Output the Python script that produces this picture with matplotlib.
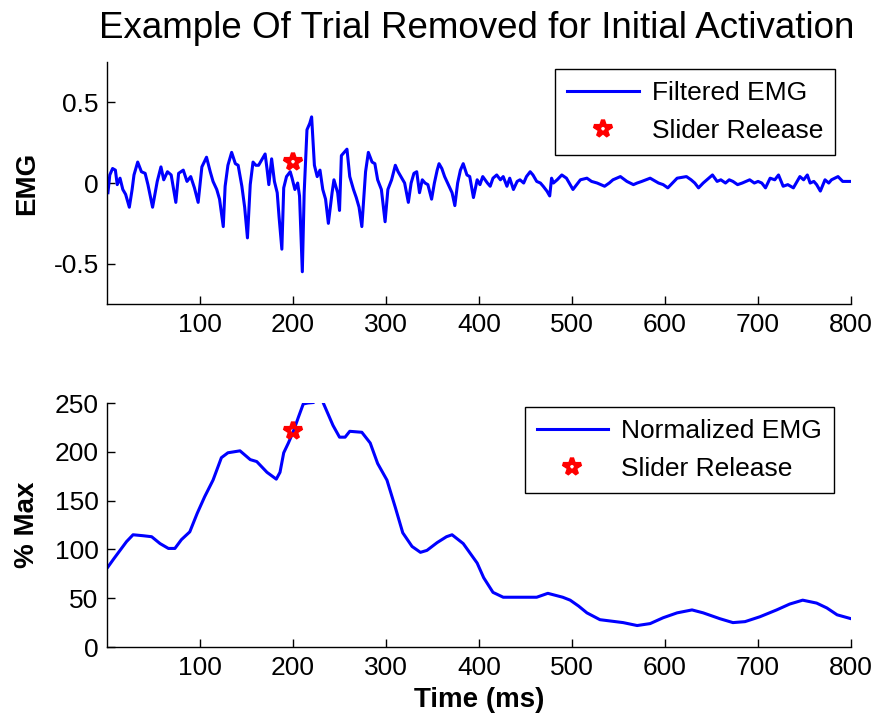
import numpy as np
import matplotlib
matplotlib.use("Agg")
import matplotlib.pyplot as plt

plt.rcParams["font.family"] = ["Liberation Sans", "DejaVu Sans"]
plt.rcParams["axes.unicode_minus"] = False

# filtered EMG (time in ms, value)
emg_t = [1, 3, 6, 9, 11, 14, 17, 20, 24, 27, 29, 33, 37, 41, 44, 49, 54, 58, 61, 65,
         69, 74, 77, 82, 86, 90, 94, 98, 102, 107, 111, 114, 118, 121, 125, 127, 130, 134, 138, 141,
         145, 148, 151, 154, 157, 160, 163, 166, 170, 172, 174, 177, 180, 183, 185, 188, 190, 193, 197, 199,
         202, 205, 207, 210, 212, 215, 218, 220, 223, 226, 229, 232, 235, 238, 242, 244, 248, 250, 252, 258,
         261, 265, 268, 271, 274, 278, 281, 285, 288, 291, 295, 299, 302, 306, 310, 313, 317, 320, 324, 327,
         330, 333, 336, 339, 342, 345, 349, 352, 355, 357, 360, 363, 367, 371, 374, 377, 380, 383, 387, 390,
         394, 398, 401, 404, 409, 412, 415, 419, 423, 426, 430, 433, 437, 441, 444, 448, 451, 455, 458, 462,
         466, 469, 473, 476, 478, 480, 484, 489, 494, 501, 505, 509, 516, 521, 527, 535, 540, 544, 552, 559,
         566, 570, 575, 584, 593, 598, 603, 608, 613, 623, 628, 632, 636, 641, 645, 651, 656, 660, 665, 669,
         673, 678, 683, 687, 691, 696, 700, 704, 708, 713, 718, 722, 727, 732, 738, 741, 745, 749, 753, 756,
         760, 763, 767, 772, 776, 779, 786, 791, 795, 800]
emg_v = [-0.06, 0.05, 0.09, 0.08, -0.01, 0.03, -0.04, -0.07, -0.15, -0.04, 0.05, 0.13, 0.07, 0.06, -0.01, -0.15, 0.01, 0.10, 0.02, 0.07,
         0.05, -0.12, 0.06, 0.08, 0.01, 0.04, -0.03, -0.12, 0.10, 0.16, 0.07, 0.01, -0.04, -0.10, -0.27, -0.02, 0.11, 0.19, 0.12, 0.11,
         -0.02, -0.15, -0.34, -0.01, 0.13, 0.11, 0.11, 0.14, 0.18, 0.09, -0.01, 0.15, 0.01, -0.06, -0.21, -0.41, -0.03, 0.04, 0.07, 0.03,
         -0.04, 0.0, -0.08, -0.55, -0.06, 0.33, 0.37, 0.41, 0.11, 0.04, 0.08, -0.04, -0.10, -0.25, -0.06, 0.02, -0.06, -0.17, 0.17, 0.21,
         0.04, -0.04, -0.09, -0.15, -0.27, 0.07, 0.19, 0.13, 0.12, 0.02, -0.04, -0.24, -0.04, 0.02, 0.11, 0.07, 0.03, 0.0, -0.12, 0.0,
         0.06, 0.07, -0.06, 0.02, 0.0, -0.01, -0.10, 0.0, 0.08, 0.12, 0.09, 0.04, -0.01, -0.06, -0.14, 0.0, 0.08, 0.12, 0.05, 0.04,
         -0.09, 0.02, -0.01, 0.04, 0.0, -0.02, 0.03, 0.05, 0.02, 0.04, -0.02, 0.03, -0.04, 0.01, 0.02, 0.0, 0.04, 0.07, 0.05, 0.01,
         0.0, -0.02, -0.05, -0.08, 0.03, 0.0, 0.02, 0.05, 0.03, -0.04, -0.01, 0.02, 0.03, 0.01, 0.0, -0.02, 0.0, 0.02, 0.04, 0.01,
         -0.01, 0.0, 0.01, 0.03, 0.0, -0.01, -0.03, 0.0, 0.03, 0.04, 0.02, 0.0, -0.03, 0.0, 0.02, 0.05, 0.01, 0.02, 0.0, 0.02,
         0.01, -0.01, 0.0, 0.01, 0.02, 0.0, 0.01, 0.0, -0.03, 0.03, 0.02, 0.05, -0.02, -0.01, -0.03, 0.0, 0.04, 0.02, 0.05, 0.0,
         0.01, -0.01, -0.05, 0.02, 0.0, 0.02, 0.04, 0.01, 0.01, 0.01]

# normalized EMG (% max)
norm_t = [1, 7, 14, 21, 28, 39, 48, 57, 66, 73, 80, 89, 97, 105, 114, 123, 130, 143, 154, 161,
          172, 182, 186, 190, 195, 200, 206, 211, 216, 222, 226, 230, 233, 243, 250, 256, 261, 274, 283, 291,
          301, 310, 318, 328, 337, 344, 355, 365, 371, 383, 398, 405, 415, 426, 445, 462, 474, 490, 498, 507,
          516, 530, 555, 570, 584, 598, 613, 629, 641, 659, 673, 686, 702, 720, 734, 748, 763, 774, 785, 800]
norm_v = [82, 90, 99, 108, 115, 114, 113, 106, 101, 101, 110, 118, 137, 154, 171, 194, 199, 201, 192, 190,
          179, 172, 179, 199, 209, 220, 236, 249, 250, 250.5, 256, 256, 249, 227, 215, 215, 221, 220, 209, 188,
          171, 143, 117, 103, 97, 99, 107, 113, 115, 106, 86, 71, 56, 51, 51, 51, 55, 51, 48, 42,
          35, 28, 25, 22, 24, 30, 35, 38, 35, 29, 25, 26, 31, 38, 44, 48, 45, 40, 33, 29]

release_t = 200
release_emg = 0.13
release_norm = 221

x_ticks = [100, 200, 300, 400, 500, 600, 700, 800]
emg_ticks = [-0.5, 0, 0.5]
emg_tick_labels = ["-0.5", "0", "0.5"]
norm_ticks = [0, 50, 100, 150, 200, 250]

fig = plt.figure(figsize=(8.8, 7.23), dpi=100)
ax1 = fig.add_axes([0.1216, 0.5795, 0.8455, 0.3347])
ax2 = fig.add_axes([0.1216, 0.1051, 0.8455, 0.3375])

star = dict(marker="*", linestyle="none", markersize=13, markerfacecolor="none",
            markeredgecolor="red", markeredgewidth=3)

ax1.plot(emg_t, emg_v, color="blue", lw=2.2, label="Filtered EMG")
ax1.plot([release_t], [release_emg], label="Slider Release", **star)
ax1.set_xlim(0, 800)
ax1.set_ylim(-0.75, 0.75)
ax1.set_yticks(emg_ticks)
ax1.set_yticklabels(emg_tick_labels)
ax1.set_ylabel("EMG", fontsize=20, fontweight="bold")

ax2.plot(norm_t, norm_v, color="blue", lw=2.2, label="Normalized EMG")
ax2.plot([release_t], [release_norm], label="Slider Release", **star)
ax2.set_xlim(0, 800)
ax2.set_ylim(0, 250)
ax2.set_yticks(norm_ticks)
ax2.set_ylabel("% Max", fontsize=20, fontweight="bold")
ax2.set_xlabel("Time (ms)", fontsize=20, fontweight="bold", labelpad=5)

for ax in (ax1, ax2):
    ax.set_xticks(x_ticks)
    ax.spines["top"].set_visible(False)
    ax.spines["right"].set_visible(False)
    for s in ("left", "bottom"):
        ax.spines[s].set_linewidth(1.0)
    ax.tick_params(direction="in", length=6, width=1, labelsize=19)
    ax.tick_params(axis="x", pad=6.5)
    ax.tick_params(axis="y", pad=6)
    ax.yaxis.set_label_coords(-0.09, 0.5)

leg_kw = dict(loc="upper right", fontsize=19, fancybox=False, framealpha=1,
              edgecolor="black", borderaxespad=0, handlelength=2.7,
              handletextpad=0.5, borderpad=0.45, labelspacing=0.55)
l1 = ax1.legend(bbox_to_anchor=(0.9785, 0.971), **leg_kw)
l2 = ax2.legend(bbox_to_anchor=(0.977, 0.984), **leg_kw)
for lg in (l1, l2):
    lg.get_frame().set_linewidth(1.0)

fig.text(0.542, 0.9474, "Example Of Trial Removed for Initial Activation",
         ha="center", va="baseline", fontsize=26.5)

fig.savefig("out.png", dpi=100)
